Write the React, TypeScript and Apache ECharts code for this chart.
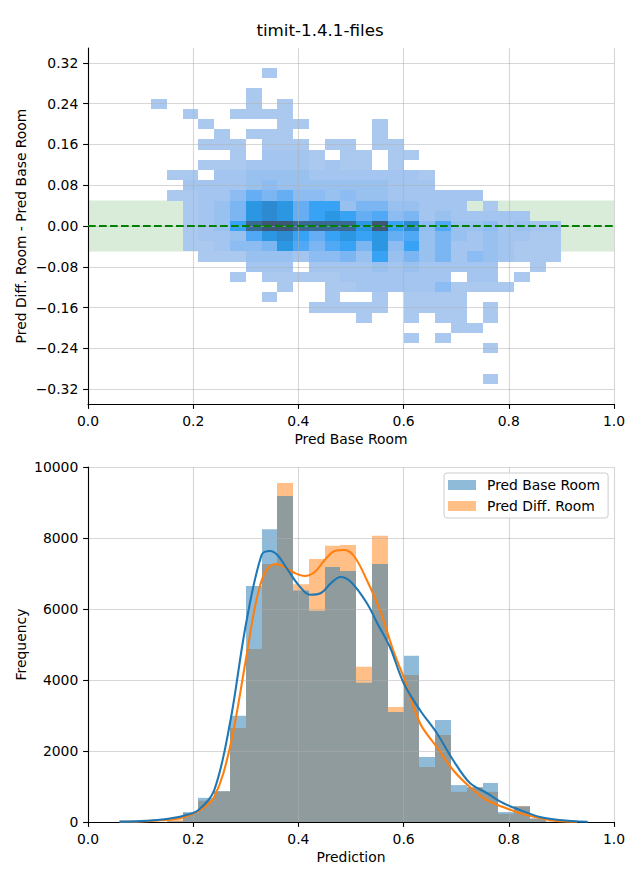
import React, { useEffect, useRef } from 'react';
import * as echarts from 'echarts';

const FONT = 'DejaVu Sans';

// ---------- top panel: 2D histogram ----------
const heatXStart = 0.12; // left edge of first x bin
const heatXStep = 0.03;
const heatYTop = 0.3; // centre of first (top) y bin
const heatYStep = 0.02;
// one string per y bin (top to bottom), one hex digit per x bin = colour level (0 = empty)
const heatRows = [
  '00000001000000000000000000',
  '00000000000000000000000000',
  '00000010000000000000000000',
  '10000010100000000000000000',
  '00100111100000000000000000',
  '00010000110000100000000000',
  '00001011100000100000000000',
  '00011101110110110000000000',
  '00000102221011011000000000',
  '00011122221211010000000000',
  '01102233332222222100000000',
  '00222234333333322200000000',
  '01122465644343322222200000',
  '0012359a968835533222010000',
  '0012359a968986745232222200',
  '001238cddcccc9d8a473342322',
  '00122379a86898967353232211',
  '00112445975785948352232111',
  '00011133324453835352432111',
  '00000022202222323222220010',
  '00000101111122222220220100',
  '00000000100112222241111000',
  '00000001000100101111000000',
  '00000000001111101111010000',
  '00000000000001001011010000',
  '00000000000000000001100000',
  '00000000000000001010000000',
  '00000000000000000000010000',
  '00000000000000000000000000',
  '00000000000000000000000000',
  '00000000000000000000010000',
];
const heatPalette = [
  'rgba(0,0,0,0)',
  '#abc9ef', '#a3c5ef', '#99c1f0', '#8cbcf1', '#7bb6f2', '#66aef3', '#51a8f4',
  '#38a3f5', '#2b97e3', '#2d8ad0', '#3479b2', '#3a6a94', '#3d5774',
];
const bandY = [-0.05, 0.05];
const bandX = [0, 1];
const topYTicks = [-0.32, -0.24, -0.16, -0.08, 0, 0.08, 0.16, 0.24, 0.32];

// ---------- bottom panel: histograms + KDE ----------
const histStep = 0.03;
const histLeft = [0.15, 0.18, 0.21, 0.24, 0.27, 0.3, 0.33, 0.36, 0.39, 0.42, 0.45, 0.48, 0.51, 0.54, 0.57, 0.6, 0.63, 0.66, 0.69, 0.72, 0.75, 0.78, 0.81, 0.84, 0.87];
const baseCounts = [20, 280, 680, 870, 2990, 6650, 8250, 9180, 6520, 5950, 7180, 7070, 3920, 7270, 3100, 4680, 1830, 2870, 1040, 975, 1100, 280, 440, 100, 10];
const diffCounts = [70, 250, 600, 860, 2650, 4870, 7270, 9550, 6700, 7410, 7780, 7800, 4370, 8060, 3240, 4140, 1550, 2450, 850, 980, 850, 230, 450, 100, 10];

const baseKde = [
  [0.06, 10], [0.1, 25], [0.14, 70], [0.18, 170], [0.21, 340], [0.24, 900],
  [0.27, 2790], [0.3, 5550], [0.33, 7520], [0.346, 7634],
  [0.36, 7520], [0.38, 7100], [0.4, 6680], [0.422, 6400], [0.443, 6450], [0.462, 6730],
  [0.48, 6900], [0.5, 6760], [0.53, 6170], [0.55, 5600], [0.574, 4930], [0.6, 3915],
  [0.631, 3155], [0.663, 2507], [0.694, 1746], [0.726, 1098], [0.758, 817], [0.789, 535],
  [0.821, 338], [0.859, 141], [0.897, 56], [0.95, 5],
];
const diffKde = [
  [0.06, 5], [0.1, 15], [0.14, 50], [0.177, 113], [0.21, 310], [0.24, 704],
  [0.27, 2113], [0.3, 4563], [0.319, 6169], [0.336, 7014],
  [0.356, 7268], [0.374, 7183], [0.393, 7014], [0.412, 6930], [0.431, 7042], [0.45, 7380],
  [0.469, 7634], [0.488, 7662], [0.507, 7465], [0.53, 6817], [0.555, 5972], [0.58, 4845],
  [0.6, 4085], [0.631, 2789], [0.663, 2113], [0.694, 1465], [0.726, 986], [0.758, 620],
  [0.789, 423], [0.821, 254], [0.859, 113], [0.89, 30], [0.93, 5],
];

const BLUE = '#1f77b4';
const ORANGE = '#ff7f0e';

function buildHeatCells() {
  const cells: number[][] = [];
  heatRows.forEach((row, i) => {
    const yc = +(heatYTop - i * heatYStep).toFixed(2);
    for (let j = 0; j < row.length; j++) {
      const lvl = parseInt(row[j], 16);
      if (lvl > 0) cells.push([+(heatXStart + j * heatXStep).toFixed(2), yc, lvl]);
    }
  });
  return cells;
}

const axisText = { fontFamily: FONT, fontSize: 13.9, color: '#000' };

function axisBase(gridIndex: number) {
  return {
    gridIndex,
    type: 'value',
    z: 3,
    nameLocation: 'middle',
    nameMoveOverlap: false,
    nameTextStyle: { ...axisText },
    axisLine: { show: true, onZero: false, lineStyle: { color: '#000', width: 1.1 } },
    axisTick: { show: true, inside: false, length: 4.9, lineStyle: { color: '#000', width: 1.1 } },
    splitLine: { show: true, lineStyle: { color: '#b0b0b0', width: 1.1, opacity: 0.5 } },
  } as any;
}

const fmt1 = (v: number) => v.toFixed(1);
const fmt2 = (v: number) => (v < -1e-9 ? '\u2212' : '') + Math.abs(v).toFixed(2);

function histRenderer(color: string) {
  return (params: any, api: any) => {
    const x0 = api.value(0) as number;
    const v = api.value(1) as number;
    const a = api.coord([x0, v]);
    const b = api.coord([x0 + histStep, 0]);
    const x = Math.round(a[0]);
    const y = a[1];
    return {
      type: 'rect',
      shape: { x, y, width: Math.round(b[0]) - x, height: b[1] - y },
      style: { fill: color, opacity: 0.5 },
    };
  };
}

function buildOption() {
  const heatCells = buildHeatCells();
  return {
    animation: false,
    backgroundColor: '#fff',
    title: {
      text: 'timit-1.4.1-files',
      left: 'center',
      top: 16,
      textStyle: { fontFamily: FONT, fontSize: 16.7, fontWeight: 'normal', color: '#000' },
    },
    grid: [
      { left: 88, top: 48, width: 526, height: 356 },
      { left: 88, top: 467, width: 526, height: 355 },
    ],
    xAxis: [
      {
        ...axisBase(0),
        min: 0, max: 1, interval: 0.2,
        name: 'Pred Base Room', nameGap: 28,
        axisLabel: { ...axisText, margin: 9.7, formatter: fmt1 },
      },
      {
        ...axisBase(1),
        min: 0, max: 1, interval: 0.2,
        name: 'Prediction', nameGap: 28,
        axisLabel: { ...axisText, margin: 9.7, formatter: fmt1 },
      },
    ],
    yAxis: [
      {
        ...axisBase(0),
        min: -0.3494, max: 0.3494,
        name: 'Pred Diff. Room - Pred Base Room', nameGap: 60,
        axisTick: { show: true, inside: false, length: 4.9, lineStyle: { color: '#000', width: 1.1 }, customValues: topYTicks },
        axisLabel: { ...axisText, margin: 9.7, customValues: topYTicks, formatter: fmt2 },
      },
      {
        ...axisBase(1),
        min: 0, max: 10000, interval: 2000,
        name: 'Frequency', nameGap: 60,
        axisLabel: { ...axisText, margin: 9.7, formatter: (v: number) => String(v) },
      },
    ],
    legend: {
      orient: 'vertical',
      left: 444,
      top: 473,
      selectedMode: false,
      icon: 'rect',
      itemWidth: 28,
      itemHeight: 10,
      itemGap: 7,
      padding: [5, 8, 5, 4],
      borderColor: '#cccccc',
      borderWidth: 1,
      borderRadius: 3,
      backgroundColor: 'rgba(255,255,255,0.8)',
      textStyle: { ...axisText, padding: [0, 0, 0, 6] },
      data: [
        { name: 'Pred Base Room', itemStyle: { color: 'rgba(31,119,180,0.5)' } },
        { name: 'Pred Diff. Room', itemStyle: { color: 'rgba(255,127,14,0.5)' } },
      ],
    },
    series: [
      {
        type: 'custom',
        name: 'band',
        xAxisIndex: 0, yAxisIndex: 0,
        z: 1,
        silent: true,
        data: [[bandX[0], bandY[0], bandX[1], bandY[1]]],
        encode: { x: [0, 2], y: [1, 3] },
        renderItem: (params: any, api: any) => {
          const a = api.coord([api.value(0), api.value(3)]);
          const b = api.coord([api.value(2), api.value(1)]);
          return {
            type: 'rect',
            shape: { x: a[0], y: a[1], width: b[0] - a[0], height: b[1] - a[1] },
            style: { fill: 'rgba(0,128,0,0.15)' },
          };
        },
      },
      {
        type: 'custom',
        name: 'heat',
        xAxisIndex: 0, yAxisIndex: 0,
        z: 2,
        silent: true,
        clip: true,
        data: heatCells,
        encode: { x: 0, y: 1 },
        renderItem: (params: any, api: any) => {
          const x0 = api.value(0) as number;
          const yc = api.value(1) as number;
          const lvl = api.value(2) as number;
          const a = api.coord([x0, yc + heatYStep / 2]);
          const b = api.coord([x0 + heatXStep, yc - heatYStep / 2]);
          const x = Math.round(a[0]);
          const y = Math.round(a[1]);
          return {
            type: 'rect',
            shape: { x, y, width: Math.round(b[0]) - x, height: Math.round(b[1]) - y },
            style: { fill: heatPalette[lvl] },
          };
        },
      },
      {
        type: 'line',
        name: 'zero',
        xAxisIndex: 0, yAxisIndex: 0,
        z: 5,
        silent: true,
        symbol: 'none',
        data: [[bandX[0], 0], [bandX[1], 0]],
        lineStyle: { color: '#008000', width: 2.08, type: [7.7, 3.3] },
      },
      {
        type: 'custom',
        name: 'Pred Diff. Room',
        xAxisIndex: 1, yAxisIndex: 1,
        z: 2,
        silent: true,
        data: histLeft.map((x, i) => [x, diffCounts[i]]),
        encode: { x: 0, y: 1 },
        renderItem: histRenderer(ORANGE),
      },
      {
        type: 'custom',
        name: 'Pred Base Room',
        xAxisIndex: 1, yAxisIndex: 1,
        z: 2,
        silent: true,
        data: histLeft.map((x, i) => [x, baseCounts[i]]),
        encode: { x: 0, y: 1 },
        renderItem: histRenderer(BLUE),
      },
      {
        type: 'line',
        name: 'Pred Diff. Room KDE',
        xAxisIndex: 1, yAxisIndex: 1,
        z: 5,
        silent: true,
        symbol: 'none',
        smooth: 0.35,
        data: diffKde,
        lineStyle: { color: ORANGE, width: 2.08 },
      },
      {
        type: 'line',
        name: 'Pred Base Room KDE',
        xAxisIndex: 1, yAxisIndex: 1,
        z: 5,
        silent: true,
        symbol: 'none',
        smooth: 0.35,
        data: baseKde,
        lineStyle: { color: BLUE, width: 2.08 },
      },
    ],
  };
}

export default function App() {
  const ref = useRef<HTMLDivElement>(null);
  useEffect(() => {
    document.body.style.margin = '0';
    const chart = echarts.init(ref.current as HTMLDivElement, undefined, { renderer: 'svg' });
    chart.setOption(buildOption() as any);
    return () => chart.dispose();
  }, []);
  return <div ref={ref} style={{ width: 640, height: 880 }} />;
}
